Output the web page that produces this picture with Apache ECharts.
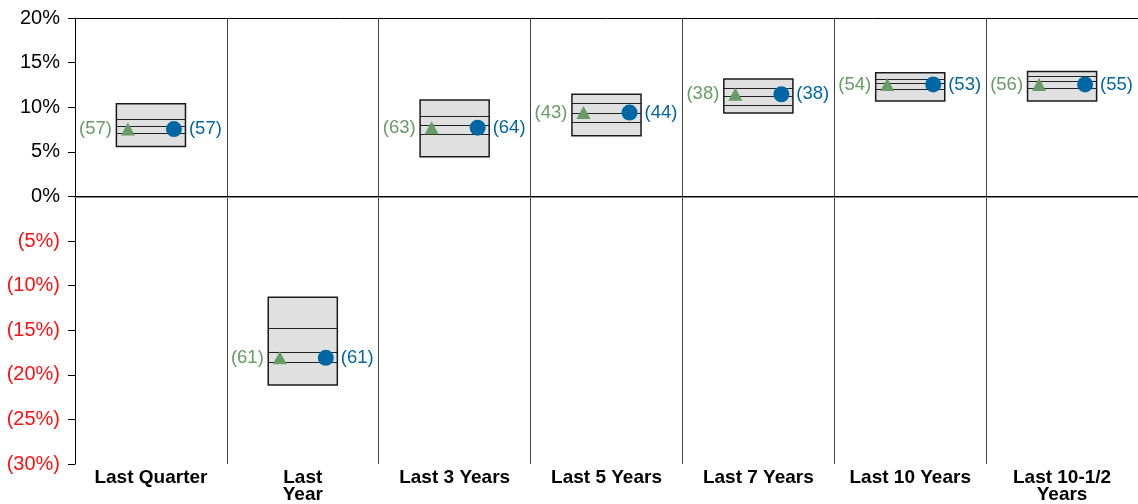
<!DOCTYPE html>
<html>
<head>
<meta charset="utf-8">
<script src="https://cdn.jsdelivr.net/npm/echarts@6/dist/echarts.min.js"></script>
<style>
  html, body { margin: 0; padding: 0; background: #fff; }
  #chart { width: 1138px; height: 504px; }
</style>
</head>
<body>
<div id="chart"></div>
<script>
// 分类和分位数
const categories = ['Last Quarter', 'Last\nYear', 'Last 3 Years', 'Last 5 Years', 'Last 7 Years', 'Last 10 Years', 'Last 10-1/2\nYears']
const p5 = [10.4, -11.3, 10.8, 11.45, 13.15, 13.85, 14.0]
const p25 = [8.7, -14.7, 9.0, 10.5, 12.2, 13.2, 13.45]
const median = [7.85, -17.4, 8.05, 9.35, 11.2, 12.7, 12.9]
const p75 = [7.1, -18.6, 7.0, 8.3, 10.2, 12.05, 12.1]
const p95 = [5.6, -21.15, 4.45, 6.8, 9.35, 10.7, 10.7]

// 两个组合的收益和排名
const triValues = [7.55, -18.1, 7.7, 9.4, 11.45, 12.55, 12.55]
const triRanks = [57, 61, 63, 43, 38, 54, 56]
const dotValues = [7.55, -18.1, 7.7, 9.4, 11.45, 12.55, 12.55]
const dotRanks = [57, 61, 64, 44, 38, 53, 55]

const yTicks = { min: -30, max: 20, interval: 5 }

const GREEN = '#679b67'
const BLUE = '#0066a4'
const FONT = '"Liberation Sans", Arial, sans-serif'

const boxData = categories.map((c, i) => [i, p5[i], p25[i], median[i], p75[i], p95[i]])

// 画浮动箱体和三条分位线
function renderBox(params, api) {
    const i = api.value(0)
    const w = api.size([1, 0])[0] * 0.455
    const x0 = api.coord([i, 0])[0] - w / 2
    const yTop = api.coord([i, api.value(1)])[1]
    const yBot = api.coord([i, api.value(5)])[1]
    const lines = [2, 3, 4].map(k => {
        const y = Math.round(api.coord([i, api.value(k)])[1]) + 0.5
        return {
            type: 'line',
            shape: { x1: x0, y1: y, x2: x0 + w, y2: y },
            style: { stroke: '#222', lineWidth: 1.2 }
        }
    })
    return {
        type: 'group',
        children: [{
            type: 'rect',
            shape: { x: x0, y: yTop, width: w, height: yBot - yTop },
            style: { fill: '#e0e0e0', stroke: '#1a1a1a', lineWidth: 1.5 }
        }].concat(lines)
    }
}

const chart = echarts.init(document.getElementById('chart'))

chart.setOption({
    animation: false,
    grid: { left: 75, width: 1066, top: 18, bottom: 39 },
    xAxis: {
        type: 'category',
        data: categories,
        axisLine: { lineStyle: { color: '#888', width: 2 } },
        axisTick: { show: false },
        splitLine: { show: true, lineStyle: { color: '#444', width: 1 } },
        axisLabel: {
            interval: 0,
            margin: 5,
            color: '#000',
            fontFamily: FONT,
            fontWeight: 'bold',
            fontSize: 19,
            lineHeight: 17
        }
    },
    yAxis: {
        type: 'value',
        min: yTicks.min,
        max: yTicks.max,
        interval: yTicks.interval,
        axisLine: { show: true, lineStyle: { color: '#000', width: 1 } },
        axisTick: { show: true, length: 7, lineStyle: { color: '#000' } },
        splitLine: { show: false },
        axisLabel: {
            margin: 15,
            fontFamily: FONT,
            fontSize: 20,
            color: v => (v < 0 ? '#ff1010' : '#000'),
            formatter: v => (v < 0 ? '(' + (-v) + '%)' : v + '%')
        }
    },
    series: [
        {
            type: 'custom',
            renderItem: renderBox,
            data: boxData,
            encode: { x: 0, y: [1, 5] },
            z: 2,
            silent: true,
            markLine: {
                silent: true,
                symbol: 'none',
                label: { show: false },
                lineStyle: { color: '#000', width: 1, type: 'solid' },
                data: [{ yAxis: 0 }, { yAxis: 20 }]
            }
        },
        {
            type: 'scatter',
            symbol: 'triangle',
            symbolSize: [14, 13],
            symbolOffset: [-23, 0],
            itemStyle: { color: GREEN, opacity: 1 },
            z: 5,
            data: triValues.map((v, i) => [i, v, triRanks[i]]),
            label: {
                show: true,
                position: 'left',
                distance: 9,
                color: GREEN,
                fontFamily: FONT,
                fontSize: 18.5,
                formatter: p => '(' + p.value[2] + ')'
            }
        },
        {
            type: 'scatter',
            symbol: 'circle',
            symbolSize: 16,
            symbolOffset: [23, 0],
            itemStyle: { color: BLUE, opacity: 1 },
            z: 5,
            data: dotValues.map((v, i) => [i, v, dotRanks[i]]),
            label: {
                show: true,
                position: 'right',
                distance: 7,
                color: BLUE,
                fontFamily: FONT,
                fontSize: 18.5,
                formatter: p => '(' + p.value[2] + ')'
            }
        }
    ]
})
</script>
</body>
</html>
